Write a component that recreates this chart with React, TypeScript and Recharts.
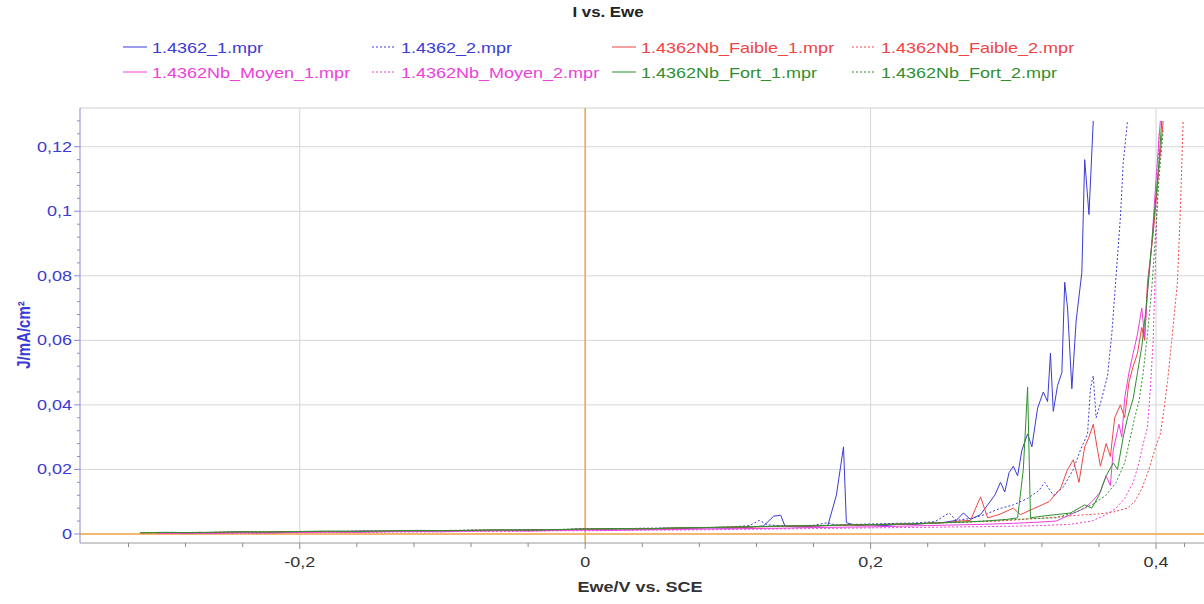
import React from 'react';
import { LineChart, Line, XAxis, YAxis, CartesianGrid, ReferenceLine } from 'recharts';

// E (V vs. SCE), J (mA/cm²)
const blue1: [number, number][] = [
  [-0.284, 0.0002], [-0.27, 0.0005], [-0.26, 0.0003], [-0.245, 0.0006], [-0.23, 0.0004], [-0.215, 0.0007],
  [-0.2, 0.0006], [-0.185, 0.0008], [-0.17, 0.0007], [-0.155, 0.0009], [-0.14, 0.0008], [-0.125, 0.001],
  [-0.11, 0.0009], [-0.095, 0.0011], [-0.08, 0.001], [-0.065, 0.0012], [-0.05, 0.0011], [-0.035, 0.0013],
  [-0.02, 0.0012], [-0.005, 0.0015], [0.01, 0.0014], [0.025, 0.0016], [0.04, 0.0015], [0.055, 0.0018],
  [0.07, 0.0017], [0.085, 0.0019], [0.1, 0.0018], [0.115, 0.0021], [0.125, 0.0025], [0.132, 0.0055],
  [0.137, 0.0058], [0.14, 0.0024], [0.15, 0.0022], [0.16, 0.0024], [0.17, 0.0026], [0.176, 0.012],
  [0.181, 0.027], [0.183, 0.0035], [0.19, 0.0026], [0.2, 0.0028], [0.21, 0.0026], [0.22, 0.003],
  [0.23, 0.0029], [0.24, 0.0033], [0.25, 0.0035], [0.26, 0.0042], [0.265, 0.0065], [0.27, 0.0045],
  [0.277, 0.006], [0.282, 0.009], [0.287, 0.012], [0.291, 0.016], [0.294, 0.013], [0.297, 0.019],
  [0.3, 0.021], [0.303, 0.018], [0.306, 0.026], [0.31, 0.031], [0.313, 0.027], [0.317, 0.039],
  [0.321, 0.044], [0.324, 0.041], [0.326, 0.056], [0.328, 0.038], [0.331, 0.046], [0.334, 0.05],
  [0.336, 0.078], [0.338, 0.07], [0.341, 0.045], [0.344, 0.066], [0.348, 0.081], [0.35, 0.116],
  [0.353, 0.099], [0.356, 0.128],
];

const blue2: [number, number][] = [
  [-0.29, 0.0003], [-0.275, 0.0005], [-0.26, 0.0004], [-0.24, 0.0006], [-0.22, 0.0005], [-0.2, 0.0008],
  [-0.18, 0.0007], [-0.16, 0.0009], [-0.14, 0.0008], [-0.12, 0.0011], [-0.1, 0.001], [-0.08, 0.0012],
  [-0.06, 0.0011], [-0.04, 0.0014], [-0.02, 0.0013], [0, 0.0016], [0.02, 0.0015], [0.04, 0.0018],
  [0.06, 0.0017], [0.08, 0.002], [0.1, 0.0021], [0.115, 0.0026], [0.122, 0.0042], [0.128, 0.0028],
  [0.14, 0.0025], [0.16, 0.0027], [0.17, 0.0035], [0.175, 0.0028], [0.19, 0.003], [0.21, 0.0032],
  [0.23, 0.0034], [0.245, 0.0038], [0.255, 0.0065], [0.26, 0.0042], [0.27, 0.0048], [0.28, 0.006],
  [0.29, 0.0078], [0.3, 0.009], [0.31, 0.011], [0.318, 0.0135], [0.322, 0.016], [0.328, 0.012],
  [0.335, 0.0145], [0.342, 0.02], [0.347, 0.026], [0.352, 0.031], [0.354, 0.045], [0.356, 0.049],
  [0.358, 0.036], [0.362, 0.042], [0.366, 0.049], [0.369, 0.062], [0.372, 0.08], [0.375, 0.098],
  [0.377, 0.115], [0.38, 0.128],
];

const red1: [number, number][] = [
  [-0.312, 0.0003], [-0.295, 0.0004], [-0.28, 0.0003], [-0.26, 0.0005], [-0.24, 0.0006], [-0.22, 0.0005],
  [-0.2, 0.0007], [-0.18, 0.0008], [-0.16, 0.0007], [-0.14, 0.0009], [-0.12, 0.001], [-0.1, 0.0009],
  [-0.08, 0.0011], [-0.06, 0.0012], [-0.04, 0.0011], [-0.02, 0.0013], [0, 0.0015], [0.02, 0.0016],
  [0.04, 0.0015], [0.06, 0.0018], [0.08, 0.0019], [0.1, 0.0021], [0.12, 0.0022], [0.14, 0.0024],
  [0.16, 0.0025], [0.18, 0.0027], [0.2, 0.0028], [0.22, 0.003], [0.24, 0.0033], [0.255, 0.0036],
  [0.262, 0.004], [0.27, 0.0042], [0.277, 0.0115], [0.282, 0.005], [0.29, 0.006], [0.3, 0.008],
  [0.305, 0.006], [0.315, 0.008], [0.325, 0.01], [0.333, 0.014], [0.338, 0.02], [0.342, 0.023],
  [0.346, 0.016], [0.35, 0.027], [0.353, 0.03], [0.356, 0.034], [0.359, 0.026], [0.361, 0.021],
  [0.365, 0.028], [0.368, 0.024], [0.371, 0.036], [0.375, 0.04], [0.378, 0.036], [0.381, 0.047],
  [0.384, 0.052], [0.387, 0.056], [0.39, 0.064], [0.392, 0.06], [0.394, 0.078], [0.398, 0.093],
  [0.401, 0.108], [0.405, 0.128],
];

const red2: [number, number][] = [
  [-0.305, 0.0004], [-0.29, 0.0003], [-0.27, 0.0005], [-0.25, 0.0004], [-0.23, 0.0006], [-0.21, 0.0007],
  [-0.19, 0.0006], [-0.17, 0.0008], [-0.15, 0.0009], [-0.13, 0.0008], [-0.11, 0.001], [-0.09, 0.0011],
  [-0.07, 0.001], [-0.05, 0.0012], [-0.03, 0.0013], [-0.01, 0.0014], [0.01, 0.0015], [0.03, 0.0017],
  [0.05, 0.0016], [0.07, 0.0019], [0.09, 0.002], [0.11, 0.0022], [0.13, 0.0023], [0.15, 0.0025],
  [0.17, 0.0026], [0.19, 0.0028], [0.21, 0.003], [0.23, 0.0031], [0.25, 0.0034], [0.27, 0.0037],
  [0.29, 0.004], [0.31, 0.0046], [0.33, 0.0052], [0.345, 0.0058], [0.36, 0.0062], [0.37, 0.0068],
  [0.38, 0.008], [0.385, 0.01], [0.39, 0.014], [0.395, 0.02], [0.399, 0.026], [0.403, 0.031],
  [0.406, 0.04], [0.408, 0.047], [0.411, 0.06], [0.415, 0.078], [0.417, 0.1], [0.419, 0.128],
];

const magenta1: [number, number][] = [
  [-0.3, 0.0002], [-0.28, 0.0003], [-0.26, 0.0002], [-0.24, 0.0004], [-0.22, 0.0003], [-0.2, 0.0005],
  [-0.18, 0.0006], [-0.16, 0.0005], [-0.14, 0.0007], [-0.12, 0.0008], [-0.1, 0.0007], [-0.08, 0.0009],
  [-0.06, 0.001], [-0.04, 0.0009], [-0.02, 0.0011], [0, 0.0012], [0.02, 0.0011], [0.04, 0.0013],
  [0.06, 0.0014], [0.08, 0.0015], [0.1, 0.0016], [0.12, 0.0017], [0.14, 0.0018], [0.16, 0.002],
  [0.18, 0.0021], [0.2, 0.0022], [0.22, 0.0024], [0.24, 0.0026], [0.26, 0.0028], [0.28, 0.003],
  [0.3, 0.0033], [0.315, 0.0036], [0.33, 0.004], [0.34, 0.006], [0.35, 0.008], [0.355, 0.01],
  [0.361, 0.013], [0.365, 0.018], [0.368, 0.015], [0.37, 0.026], [0.374, 0.034], [0.376, 0.03],
  [0.378, 0.042], [0.381, 0.05], [0.384, 0.056], [0.387, 0.062], [0.39, 0.07], [0.392, 0.061],
  [0.394, 0.075], [0.397, 0.09], [0.4, 0.11], [0.403, 0.128],
];

const magenta2: [number, number][] = [
  [-0.295, 0.0002], [-0.275, 0.0002], [-0.255, 0.0003], [-0.235, 0.0002], [-0.215, 0.0004], [-0.195, 0.0004],
  [-0.175, 0.0005], [-0.155, 0.0005], [-0.135, 0.0006], [-0.115, 0.0006], [-0.095, 0.0007], [-0.075, 0.0008],
  [-0.055, 0.0008], [-0.035, 0.0009], [-0.015, 0.001], [0.005, 0.001], [0.025, 0.0011], [0.045, 0.0012],
  [0.065, 0.0012], [0.085, 0.0013], [0.105, 0.0014], [0.125, 0.0015], [0.145, 0.0016], [0.165, 0.0017],
  [0.185, 0.0018], [0.205, 0.0019], [0.225, 0.002], [0.245, 0.0021], [0.265, 0.0022], [0.285, 0.0023],
  [0.3, 0.0024], [0.32, 0.0026], [0.34, 0.003], [0.355, 0.004], [0.365, 0.006], [0.372, 0.008],
  [0.378, 0.011], [0.384, 0.016], [0.388, 0.022], [0.391, 0.028], [0.394, 0.033], [0.396, 0.045],
  [0.398, 0.06], [0.4, 0.09], [0.402, 0.124],
];

const green1: [number, number][] = [
  [-0.312, 0.0004], [-0.295, 0.0005], [-0.275, 0.0004], [-0.255, 0.0006], [-0.235, 0.0007], [-0.215, 0.0006],
  [-0.195, 0.0008], [-0.175, 0.0009], [-0.155, 0.0008], [-0.135, 0.001], [-0.115, 0.0011], [-0.095, 0.001],
  [-0.075, 0.0012], [-0.055, 0.0013], [-0.035, 0.0012], [-0.015, 0.0014], [0.005, 0.0016], [0.025, 0.0017],
  [0.045, 0.0016], [0.065, 0.0019], [0.085, 0.002], [0.105, 0.0022], [0.125, 0.0023], [0.145, 0.0025],
  [0.165, 0.0026], [0.185, 0.0028], [0.205, 0.0029], [0.225, 0.0031], [0.245, 0.0034], [0.265, 0.0037],
  [0.28, 0.004], [0.295, 0.0045], [0.303, 0.005], [0.307, 0.02], [0.31, 0.0455], [0.312, 0.005],
  [0.32, 0.0055], [0.33, 0.006], [0.34, 0.0065], [0.35, 0.009], [0.355, 0.008], [0.36, 0.012],
  [0.365, 0.018], [0.37, 0.022], [0.373, 0.02], [0.377, 0.03], [0.38, 0.036], [0.384, 0.042],
  [0.387, 0.05], [0.39, 0.058], [0.393, 0.07], [0.396, 0.085], [0.399, 0.1], [0.402, 0.115],
  [0.404, 0.128],
];

const green2: [number, number][] = [
  [-0.31, 0.0003], [-0.29, 0.0005], [-0.27, 0.0004], [-0.25, 0.0006], [-0.23, 0.0005], [-0.21, 0.0007],
  [-0.19, 0.0008], [-0.17, 0.0007], [-0.15, 0.0009], [-0.13, 0.001], [-0.11, 0.0009], [-0.09, 0.0011],
  [-0.07, 0.0012], [-0.05, 0.0011], [-0.03, 0.0013], [-0.01, 0.0015], [0.01, 0.0016], [0.03, 0.0015],
  [0.05, 0.0018], [0.07, 0.0019], [0.09, 0.002], [0.11, 0.0022], [0.13, 0.0024], [0.15, 0.0025],
  [0.17, 0.0027], [0.19, 0.0028], [0.21, 0.003], [0.23, 0.0032], [0.25, 0.0035], [0.27, 0.0038],
  [0.29, 0.0042], [0.31, 0.0047], [0.33, 0.005], [0.345, 0.007], [0.355, 0.009], [0.365, 0.012],
  [0.372, 0.016], [0.378, 0.022], [0.382, 0.03], [0.385, 0.036], [0.388, 0.041], [0.391, 0.05],
  [0.394, 0.062], [0.397, 0.076], [0.4, 0.095], [0.402, 0.11], [0.405, 0.125],
];

const xMajor = [-0.2, 0, 0.2, 0.4];
const xMinor = [-0.32, -0.28, -0.24, -0.16, -0.12, -0.08, -0.04, 0.04, 0.08, 0.12, 0.16, 0.24, 0.28, 0.32, 0.36, 0.42];
const yMajor = [0, 0.02, 0.04, 0.06, 0.08, 0.1, 0.12];
const yMinor = [0.004, 0.008, 0.012, 0.016, 0.024, 0.028, 0.032, 0.036, 0.044, 0.048, 0.052, 0.056, 0.064, 0.068, 0.072, 0.076, 0.084, 0.088, 0.092, 0.096, 0.104, 0.108, 0.112, 0.116, 0.124, 0.128];

const X_DOMAIN: [number, number] = [-0.354, 0.4336];
const Y_DOMAIN: [number, number] = [-0.0028, 0.132];

const BLUE = '#3b3bd6';
const RED = '#f04545';
const MAGENTA = '#ec3fdc';
const GREEN = '#2f8f2f';
const FONT = '"Liberation Sans", Arial, sans-serif';

const series = [
  { name: '1.4362_1.mpr', data: blue1, color: BLUE, dotted: false },
  { name: '1.4362_2.mpr', data: blue2, color: BLUE, dotted: true },
  { name: '1.4362Nb_Faible_1.mpr', data: red1, color: RED, dotted: false },
  { name: '1.4362Nb_Faible_2.mpr', data: red2, color: RED, dotted: true },
  { name: '1.4362Nb_Moyen_1.mpr', data: magenta1, color: MAGENTA, dotted: false },
  { name: '1.4362Nb_Moyen_2.mpr', data: magenta2, color: MAGENTA, dotted: true },
  { name: '1.4362Nb_Fort_1.mpr', data: green1, color: GREEN, dotted: false },
  { name: '1.4362Nb_Fort_2.mpr', data: green2, color: GREEN, dotted: true },
];

// legend slots: [left of sample, top], the 4x2 grid of the original
const legendSlots: Record<string, [number, number]> = {
  '1.4362_1.mpr': [123, 38],
  '1.4362_2.mpr': [372, 38],
  '1.4362Nb_Faible_1.mpr': [612, 38],
  '1.4362Nb_Faible_2.mpr': [852, 38],
  '1.4362Nb_Moyen_1.mpr': [123, 63],
  '1.4362Nb_Moyen_2.mpr': [372, 63],
  '1.4362Nb_Fort_1.mpr': [612, 63],
  '1.4362Nb_Fort_2.mpr': [852, 63],
};

const fmt = (v: number) => String(v).replace('.', ',');
const isMajor = (list: number[], v: number) => list.some((m) => Math.abs(m - v) < 1e-9);

// tick lines drawn here so minor ticks can be shorter and unlabeled
const XTick = (props: any) => {
  const { x, y, payload } = props;
  const major = isMajor(xMajor, payload.value);
  return (
    <g>
      <line x1={x} y1={y} x2={x} y2={y + (major ? 6 : 4)} stroke="#8a8a8a" />
      {major && (
        <text transform={`translate(${x},${y + 24}) scale(1.2,1)`} textAnchor="middle" fill="#333" fontSize={15} fontFamily={FONT}>
          {fmt(payload.value)}
        </text>
      )}
    </g>
  );
};

const YTick = (props: any) => {
  const { x, y, payload } = props;
  const major = isMajor(yMajor, payload.value);
  return (
    <g>
      <line x1={x - (major ? 6 : 3)} y1={y} x2={x} y2={y} stroke="#8a8ad8" />
      {major && (
        <text transform={`translate(${x - 8},${y + 5}) scale(1.2,1)`} textAnchor="end" fill={BLUE} fontSize={15} fontFamily={FONT}>
          {fmt(payload.value)}
        </text>
      )}
    </g>
  );
};

export default function App() {
  return (
    <div style={{ position: 'absolute', left: 0, top: 0, width: 1204, height: 604, background: '#fff', fontFamily: FONT }}>
      <div style={{ position: 'absolute', left: 608, top: 4, width: 0 }}>
        <div style={{ position: 'absolute', left: 0, top: 0, transform: 'translateX(-50%) scaleX(1.2)', fontSize: 14, fontWeight: 'bold', color: '#222', whiteSpace: 'nowrap' }}>
          I vs. Ewe
        </div>
      </div>

      {series.map((s) => {
        const [lx, ly] = legendSlots[s.name];
        return (
          <div key={s.name} style={{ position: 'absolute', left: lx, top: ly, height: 18, display: 'flex', alignItems: 'center' }}>
            <svg width={24} height={10} style={{ marginRight: 5 }}>
              <line x1={0} y1={5} x2={24} y2={5} stroke={s.color} strokeWidth={1} strokeDasharray={s.dotted ? '2 2' : undefined} />
            </svg>
            <span style={{ fontSize: 15, color: s.color, whiteSpace: 'nowrap', transform: 'scaleX(1.2)', transformOrigin: 'left center' }}>{s.name}</span>
          </div>
        );
      })}

      <div style={{ position: 'absolute', left: 23, top: 335, width: 0, height: 0 }}>
        <div style={{ position: 'absolute', left: 0, top: 0, transform: 'translate(-50%,-50%) rotate(-90deg) scaleY(1.2)', fontSize: 15, fontWeight: 'bold', color: BLUE, whiteSpace: 'nowrap' }}>
          J/mA/cm²
        </div>
      </div>

      <div style={{ position: 'absolute', left: 640, top: 578, width: 0 }}>
        <div style={{ position: 'absolute', left: 0, top: 0, transform: 'translateX(-50%) scaleX(1.2)', fontSize: 15, fontWeight: 'bold', color: '#333', whiteSpace: 'nowrap' }}>
          Ewe/V vs. SCE
        </div>
      </div>

      <div style={{ position: 'absolute', left: 0, top: 0 }}>
        <LineChart width={1204} height={604} margin={{ top: 108, right: 0, bottom: 0, left: 0 }}>
          <CartesianGrid stroke="#d6d6d6" verticalValues={xMajor} horizontalValues={yMajor} />
          <XAxis type="number" dataKey="x" domain={X_DOMAIN} ticks={[...xMajor, ...xMinor].sort((a, b) => a - b)}
            allowDataOverflow interval={0} height={61} axisLine={{ stroke: '#9a9a9a' }} tickLine={false}
            tickSize={0} tickMargin={0} tick={XTick} />
          <YAxis type="number" dataKey="y" domain={Y_DOMAIN} ticks={[...yMajor, ...yMinor].sort((a, b) => a - b)}
            allowDataOverflow interval={0} width={80} axisLine={{ stroke: '#8a8ad8' }} tickLine={false}
            tickSize={0} tickMargin={0} tick={YTick} />
          <ReferenceLine y={Y_DOMAIN[1]} stroke="#cfcfcf" />
          <ReferenceLine y={0} stroke="#f5a74a" strokeWidth={1.5} />
          <ReferenceLine x={0} stroke="#f5a74a" strokeWidth={1.5} />
          {series.map((s) => (
            <Line
              key={s.name}
              data={s.data.map(([x, y]) => ({ x, y }))}
              dataKey="y"
              name={s.name}
              type="linear"
              stroke={s.color}
              strokeWidth={1}
              strokeDasharray={s.dotted ? '2 2' : undefined}
              dot={false}
              isAnimationActive={false}
            />
          ))}
        </LineChart>
      </div>
    </div>
  );
}
